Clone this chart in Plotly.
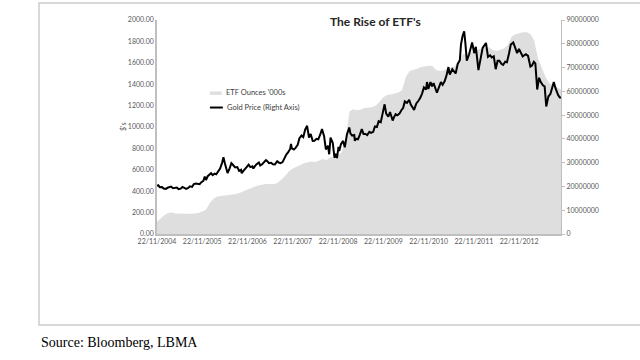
import plotly.graph_objects as go

# ---------------- data ----------------
etf_dates = [
    "2004-11-22", "2004-12-22",
    "2005-01-22", "2005-02-22", "2005-03-22", "2005-04-22", "2005-05-22", "2005-06-22",
    "2005-07-22", "2005-08-22", "2005-09-22", "2005-10-22", "2005-11-22", "2005-12-22",
    "2006-01-22", "2006-02-22", "2006-03-22", "2006-04-22", "2006-05-22", "2006-06-22",
    "2006-07-22", "2006-08-22", "2006-09-22", "2006-10-22", "2006-11-22", "2006-12-22",
    "2007-01-22", "2007-02-22", "2007-03-22", "2007-04-22", "2007-05-22", "2007-06-22",
    "2007-07-22", "2007-08-22", "2007-09-22", "2007-10-22", "2007-11-22", "2007-12-22",
    "2008-01-22", "2008-02-22", "2008-03-22", "2008-04-22", "2008-05-22", "2008-06-22",
    "2008-07-22", "2008-08-22", "2008-09-22", "2008-10-22", "2008-11-22", "2008-12-22",
    "2009-01-22", "2009-02-22", "2009-03-22", "2009-04-22", "2009-05-22", "2009-06-22",
    "2009-07-22", "2009-08-22", "2009-09-22", "2009-10-22", "2009-11-22", "2009-12-22",
    "2010-01-22", "2010-02-22", "2010-03-22", "2010-04-22", "2010-05-22", "2010-06-22",
    "2010-07-22", "2010-08-22", "2010-09-22", "2010-10-22", "2010-11-22", "2010-12-22",
    "2011-01-22", "2011-02-22", "2011-03-22", "2011-04-22", "2011-05-22", "2011-06-22",
    "2011-07-22", "2011-08-22", "2011-09-22", "2011-10-22", "2011-11-22", "2011-12-22",
    "2012-01-22", "2012-02-22", "2012-03-22", "2012-04-22", "2012-05-22", "2012-06-22",
    "2012-07-22", "2012-08-22", "2012-09-22", "2012-10-22", "2012-11-22", "2012-12-22",
    "2013-01-22", "2013-02-22", "2013-03-22", "2013-04-22", "2013-05-22", "2013-06-22",
    "2013-07-22", "2013-08-22", "2013-09-22", "2013-10-25",
]
etf_ounces = [
    5200000, 6500000,
    8000000, 8800000, 9000000, 8600000, 8500000, 8500000,
    8500000, 8500000, 8600000, 8800000, 9500000, 10200000,
    13000000, 14800000, 15800000, 16000000, 16100000, 16200000,
    16300000, 16800000, 17300000, 18000000, 18500000, 19300000,
    20000000, 20500000, 20800000, 21000000, 21000000, 21000000,
    21500000, 22800000, 24500000, 26300000, 27500000, 28400000,
    29000000, 29800000, 30200000, 30500000, 30300000, 30800000,
    31500000, 31000000, 32500000, 32000000, 33000000, 34500000,
    40000000, 51500000, 52500000, 52000000, 52300000, 53000000,
    53000000, 53300000, 54000000, 55500000, 57500000, 58500000,
    58700000, 59000000, 59500000, 60500000, 66000000, 68600000,
    69000000, 69500000, 70200000, 70500000, 70800000, 70700000,
    69000000, 68500000, 68800000, 69500000, 70000000, 70500000,
    73000000, 75500000, 76000000, 76000000, 77000000, 77500000,
    78000000, 78500000, 78500000, 77500000, 77000000, 77500000,
    78000000, 79500000, 83000000, 84000000, 84500000, 84800000,
    84800000, 84000000, 81500000, 74000000, 70000000, 66000000,
    63500000, 62500000, 61500000, 60800000,
]

gold_dates = [
    "2004-11-22", "2004-12-02", "2004-12-15", "2005-01-01", "2005-01-15", "2005-02-01",
    "2005-02-15", "2005-03-01", "2005-03-15", "2005-04-01", "2005-04-15", "2005-05-01",
    "2005-05-15", "2005-06-01", "2005-06-15", "2005-07-01", "2005-07-15", "2005-08-01",
    "2005-08-15", "2005-09-01", "2005-09-15", "2005-10-01", "2005-10-15", "2005-11-01",
    "2005-11-15", "2005-12-01", "2005-12-12", "2005-12-22", "2006-01-05", "2006-01-20",
    "2006-02-01", "2006-02-15", "2006-03-01", "2006-03-15", "2006-04-01", "2006-04-15",
    "2006-05-01", "2006-05-12", "2006-05-25", "2006-06-14", "2006-07-01", "2006-07-15",
    "2006-08-01", "2006-08-15", "2006-09-01", "2006-09-15", "2006-10-01", "2006-10-06",
    "2006-10-20", "2006-11-01", "2006-11-15", "2006-12-01", "2006-12-15", "2007-01-01",
    "2007-01-08", "2007-01-20", "2007-02-01", "2007-02-22", "2007-03-05", "2007-03-20",
    "2007-04-01", "2007-04-20", "2007-05-01", "2007-05-15", "2007-06-01", "2007-06-15",
    "2007-07-01", "2007-07-20", "2007-08-01", "2007-08-16", "2007-09-01", "2007-09-15",
    "2007-10-01", "2007-10-15", "2007-11-01", "2007-11-08", "2007-11-15", "2007-12-01",
    "2007-12-15", "2008-01-01", "2008-01-15", "2008-02-01", "2008-02-15", "2008-03-01",
    "2008-03-17", "2008-04-01", "2008-04-15", "2008-05-01", "2008-05-15", "2008-06-01",
    "2008-06-15", "2008-07-01", "2008-07-15", "2008-08-01", "2008-08-15", "2008-09-01",
    "2008-09-11", "2008-09-22", "2008-10-01", "2008-10-10", "2008-10-24", "2008-11-01",
    "2008-11-13", "2008-11-25", "2008-12-01", "2008-12-15", "2009-01-01", "2009-01-15",
    "2009-02-01", "2009-02-20", "2009-03-01", "2009-03-15", "2009-04-01", "2009-04-06",
    "2009-04-15", "2009-05-01", "2009-05-15", "2009-06-01", "2009-06-15", "2009-07-01",
    "2009-07-15", "2009-08-01", "2009-08-15", "2009-09-01", "2009-09-15", "2009-10-01",
    "2009-10-15", "2009-11-01", "2009-11-15", "2009-12-02", "2009-12-15", "2010-01-01",
    "2010-01-15", "2010-02-05", "2010-02-15", "2010-03-01", "2010-03-15", "2010-04-01",
    "2010-04-15", "2010-05-01", "2010-05-14", "2010-06-01", "2010-06-18", "2010-07-01",
    "2010-07-28", "2010-08-15", "2010-09-01", "2010-09-15", "2010-10-01", "2010-10-15",
    "2010-11-01", "2010-11-09", "2010-11-20", "2010-12-07", "2010-12-20", "2011-01-01",
    "2011-01-28", "2011-02-15", "2011-03-01", "2011-03-15", "2011-04-01", "2011-04-15",
    "2011-05-01", "2011-05-12", "2011-06-01", "2011-06-28", "2011-07-15", "2011-08-01",
    "2011-08-10", "2011-08-23", "2011-09-05", "2011-09-15", "2011-09-26", "2011-10-15",
    "2011-11-08", "2011-11-25", "2011-12-08", "2011-12-29", "2012-01-15", "2012-02-01",
    "2012-02-28", "2012-03-15", "2012-04-01", "2012-04-15", "2012-05-01", "2012-05-16",
    "2012-06-01", "2012-06-15", "2012-07-01", "2012-07-15", "2012-08-01", "2012-08-15",
    "2012-09-01", "2012-09-15", "2012-10-05", "2012-10-20", "2012-11-05", "2012-11-20",
    "2012-12-05", "2012-12-20", "2013-01-01", "2013-01-15", "2013-02-01", "2013-02-20",
    "2013-03-05", "2013-03-20", "2013-04-01", "2013-04-16", "2013-05-01", "2013-05-15",
    "2013-06-01", "2013-06-15", "2013-06-28", "2013-07-15", "2013-08-01", "2013-08-28",
    "2013-09-10", "2013-09-20", "2013-10-01", "2013-10-15", "2013-10-25",
]
gold_prices = [
    450, 455, 437, 438, 424, 422,
    432, 435, 443, 428, 432, 435,
    420, 424, 440, 432, 422, 430,
    446, 440, 466, 472, 470, 465,
    484, 496, 537, 505, 540, 558,
    568, 550, 565, 558, 585, 612,
    665, 718, 655, 570, 614, 662,
    640, 622, 625, 590, 600, 568,
    590, 612, 626, 648, 625, 632,
    612, 632, 650, 668, 640, 652,
    665, 690, 680, 662, 665, 652,
    650, 680, 668, 662, 672, 712,
    742, 762, 795, 841, 800, 790,
    805, 834, 895, 920, 905, 975,
    1011, 900, 935, 870, 872, 890,
    885, 930, 980, 915, 790, 825,
    745, 900, 880, 850, 712, 750,
    710, 815, 775, 840, 870, 810,
    930, 995, 940, 920, 925, 870,
    890, 885, 925, 980, 935, 935,
    925, 955, 945, 955, 1005, 1000,
    1055, 1045, 1120, 1212, 1125, 1096,
    1140, 1060, 1090, 1120, 1110, 1125,
    1155, 1180, 1240, 1225, 1255, 1210,
    1160, 1220, 1245, 1270, 1315, 1370,
    1350, 1420, 1355, 1420, 1380, 1410,
    1320, 1375, 1420, 1395, 1430, 1480,
    1560, 1490, 1540, 1500, 1590, 1625,
    1770, 1850, 1895, 1780, 1620, 1680,
    1790, 1690, 1750, 1531, 1640, 1740,
    1785, 1655, 1670, 1650, 1660, 1540,
    1620, 1620, 1590, 1580, 1610, 1605,
    1690, 1770, 1790, 1730, 1690, 1730,
    1700, 1660, 1670, 1680, 1665, 1565,
    1575, 1610, 1595, 1350, 1460, 1420,
    1390, 1380, 1192, 1285, 1310, 1420,
    1365, 1330, 1300, 1275, 1275,
]

xtick_dates = ["2004-11-22", "2005-11-22", "2006-11-22", "2007-11-22", "2008-11-22",
               "2009-11-22", "2010-11-22", "2011-11-22", "2012-11-22"]
xtick_labels = ["22/11/2004", "22/11/2005", "22/11/2006", "22/11/2007", "22/11/2008",
                "22/11/2009", "22/11/2010", "22/11/2011", "22/11/2012"]

title_text = "The Rise of ETF's"
etf_name = "ETF Ounces '000s"
gold_name = "Gold Price (Right Axis)"
left_axis_title = "$'s"
source_text = "Source: Bloomberg, LBMA"

# ---------------- figure ----------------
TICK_FONT = dict(family="Lato", size=7, color="#595959")
AXIS_COLOR = "#bfbfbf"

fig = go.Figure()
fig.add_trace(go.Scatter(
    x=etf_dates, y=etf_ounces, name=etf_name, yaxis="y",
    mode="lines", line=dict(width=0, color="#dedede"),
    fill="tozeroy", fillcolor="#dedede", showlegend=False,
))
fig.add_trace(go.Scatter(
    x=gold_dates, y=gold_prices, name=gold_name, yaxis="y2",
    mode="lines", line=dict(width=2, color="#000000"), showlegend=False,
))

fig.update_layout(
    width=640, height=360,
    margin=dict(l=157, r=79, t=20, b=126),
    paper_bgcolor="white", plot_bgcolor="white",
    xaxis=dict(
        type="date", range=["2004-11-22", "2013-10-25"],
        tickvals=xtick_dates, ticktext=xtick_labels,
        showgrid=False, zeroline=False, showline=True,
        linecolor=AXIS_COLOR, linewidth=1.5, ticks="",
        tickfont=TICK_FONT,
    ),
    yaxis=dict(
        side="right", range=[0, 90000000], dtick=10000000, tickformat="d",
        showgrid=False, zeroline=False, showline=True,
        linecolor=AXIS_COLOR, linewidth=1, ticks="outside", ticklen=3,
        tickcolor=AXIS_COLOR, tickfont=TICK_FONT,
    ),
    yaxis2=dict(
        overlaying="y", side="left", range=[0, 2000], dtick=200, tickformat=".2f",
        showgrid=False, zeroline=False, showline=True,
        linecolor=AXIS_COLOR, linewidth=1.5, ticks="",
        tickfont=TICK_FONT,
    ),
)

# outer frame
fig.add_shape(type="rect", xref="paper", yref="paper",
              x0=-0.292, x1=1.25, y0=-0.425, y1=1.079,
              line=dict(color="#cccccc", width=1.5), fillcolor="rgba(0,0,0,0)", layer="below")

# title
fig.add_annotation(text="<b>" + title_text + "</b>", xref="paper", yref="paper",
                   x=0.542, y=0.995, xanchor="center", yanchor="middle", showarrow=False,
                   font=dict(family="Lato", size=12, color="#262626"))

# left axis title
fig.add_annotation(text=left_axis_title, xref="paper", yref="paper",
                   x=-0.099, y=0.5, textangle=-90, showarrow=False,
                   font=dict(family="Lato", size=7, color="#595959"))

# manual legend
fig.add_shape(type="rect", xref="paper", yref="paper",
              x0=0.131, x1=0.160, y0=0.650, y1=0.666,
              line=dict(width=0), fillcolor="#dedede")
fig.add_annotation(text=etf_name, xref="paper", yref="paper", x=0.166, y=0.661,
                   xanchor="left", yanchor="middle", showarrow=False,
                   font=dict(family="Lato", size=7.5, color="#404040"))
fig.add_shape(type="line", xref="paper", yref="paper",
              x0=0.131, x1=0.163, y0=0.591, y1=0.591,
              line=dict(width=2, color="#000000"))
fig.add_annotation(text=gold_name, xref="paper", yref="paper", x=0.168, y=0.591,
                   xanchor="left", yanchor="middle", showarrow=False,
                   font=dict(family="Lato", size=7.5, color="#404040"))

# source
fig.add_annotation(text=source_text, xref="paper", yref="paper", x=-0.293, y=-0.509,
                   xanchor="left", yanchor="middle", showarrow=False,
                   font=dict(family="Liberation Serif", size=14, color="#000000"))

fig.write_html("out.html", config={"displayModeBar": False},
               post_script="document.body.style.margin='0';")
